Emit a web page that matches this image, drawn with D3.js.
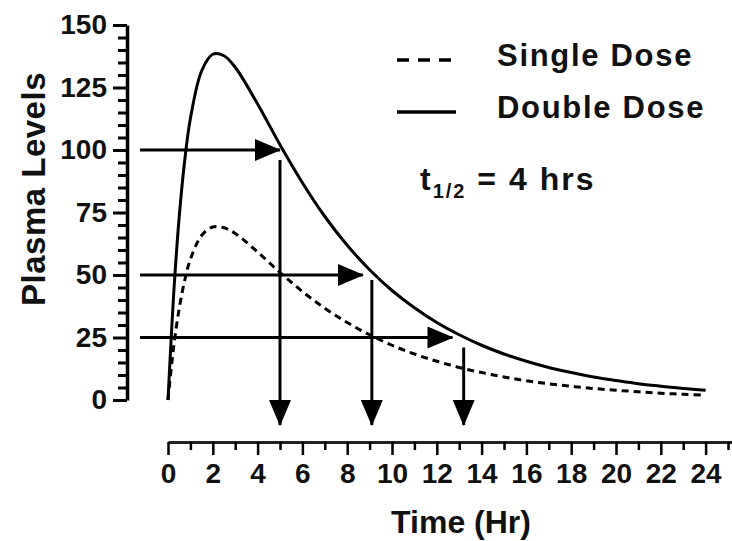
<!DOCTYPE html>
<html>
<head>
<meta charset="utf-8">
<script src="https://cdn.jsdelivr.net/npm/d3@7"></script>
<style>
  body { margin: 0; background: #fff; }
  text { font-family: "Liberation Sans", Arial, sans-serif; font-weight: bold; fill: #111; }
</style>
</head>
<body>
<div id="chart"></div>
<script>
// Data
const times = [0, 0.25, 0.5, 0.75, 1, 1.5, 2, 2.5, 3, 4, 5, 6, 7, 8, 9, 10, 11, 12,
  13, 14, 15, 16, 17, 18, 19, 20, 21, 22, 23, 24];
const singleDose = [0, 21.0, 36.6, 48.0, 56.3, 65.8, 69.2, 68.9, 66.6, 59.2, 51.0, 43.4,
  36.7, 31.0, 26.1, 21.9, 18.4, 15.5, 13.0, 11.0, 9.2, 7.7, 6.5, 5.5, 4.6, 3.9, 3.3, 2.7, 2.3, 1.9];
const doubleDose = [0, 41.9, 73.2, 96.1, 112.6, 131.6, 138.3, 137.7, 133.1, 118.4, 102.1, 86.9,
  73.4, 61.9, 52.1, 43.8, 36.9, 31.0, 26.1, 21.9, 18.4, 15.5, 13.0, 11.0, 9.2, 7.8, 6.5, 5.5, 4.6, 3.9];

// half-life arrows: level reached, where horizontal arrow stops, where vertical drops
const arrowLevels = [100, 50, 25];
const arrowTipTimes = [5, 8.7, 12.7];
const dropTimes = [5, 9.1, 13.2];
const dropTops = [96, 48, 21];

const xTickLabels = [0, 2, 4, 6, 8, 10, 12, 14, 16, 18, 20, 22, 24];
const yTickLabels = [0, 25, 50, 75, 100, 125, 150];

const width = 732, height = 541;

const svg = d3.select("#chart")
  .append("svg")
  .attr("width", width)
  .attr("height", height);

// Scales
const xScale = d3.scaleLinear().domain([0, 25.3]).range([168, 168 + 25.3 * 22.4]);
const yScale = d3.scaleLinear().domain([0, 150]).range([400, 25]);

// arrow head
svg.append("defs").append("marker")
  .attr("id", "head")
  .attr("markerUnits", "userSpaceOnUse")
  .attr("viewBox", "0 0 26 22")
  .attr("markerWidth", 26)
  .attr("markerHeight", 22)
  .attr("refX", 25)
  .attr("refY", 11)
  .attr("orient", "auto")
  .append("path")
  .attr("d", "M0,0 L26,11 L0,22 Z")
  .attr("fill", "#000");

// Y axis (major + minor)
const yAxis = svg.append("g")
  .attr("transform", "translate(127,0)")
  .call(d3.axisLeft(yScale).tickValues(yTickLabels).tickSize(14).tickSizeOuter(0).tickPadding(6));
yAxis.select(".domain").attr("stroke-width", 3.5).attr("stroke", "#000");
yAxis.selectAll(".tick line").attr("stroke-width", 3).attr("stroke", "#000");
yAxis.selectAll(".tick text").style("font-size", "28px").attr("fill", "#222");

const yMinor = svg.append("g")
  .attr("transform", "translate(127,0)")
  .call(d3.axisLeft(yScale).tickValues(d3.range(5, 150, 5).filter(v => v % 25 !== 0))
    .tickSize(9).tickFormat(""));
yMinor.select(".domain").remove();
yMinor.selectAll(".tick line").attr("stroke-width", 3).attr("stroke", "#000");

// X axis (major + minor), drawn apart below the plot
const xAxis = svg.append("g")
  .attr("transform", "translate(0,442)")
  .call(d3.axisBottom(xScale).tickValues(xTickLabels).tickSize(13).tickSizeOuter(0).tickPadding(8));
xAxis.select(".domain").attr("stroke-width", 3).attr("stroke", "#222");
xAxis.selectAll(".tick line").attr("stroke-width", 2.5);
xAxis.selectAll(".tick text").style("font-size", "28px").attr("fill", "#222");

const xMinor = svg.append("g")
  .attr("transform", "translate(0,442)")
  .call(d3.axisBottom(xScale).tickValues(d3.range(1, 26, 2)).tickSize(8).tickFormat(""));
xMinor.select(".domain").remove();
xMinor.selectAll(".tick line").attr("stroke-width", 2.5);

// Axis titles
svg.append("text")
  .attr("transform", "translate(45,189) rotate(-90)")
  .attr("text-anchor", "middle")
  .style("font-size", "33px")
  .style("letter-spacing", "0.5px")
  .text("Plasma Levels");

svg.append("text")
  .attr("x", 461)
  .attr("y", 533)
  .attr("text-anchor", "middle")
  .style("font-size", "32px")
  .text("Time (Hr)");

// Curves
const line = d3.line()
  .x(d => xScale(d[0]))
  .y(d => yScale(d[1]))
  .curve(d3.curveCatmullRom.alpha(0.5));

svg.append("path")
  .datum(times.map((t, i) => [t, doubleDose[i]]))
  .attr("d", line)
  .attr("fill", "none")
  .attr("stroke", "#000")
  .attr("stroke-width", 3);

svg.append("path")
  .datum(times.map((t, i) => [t, singleDose[i]]))
  .attr("d", line)
  .attr("fill", "none")
  .attr("stroke", "#000")
  .attr("stroke-width", 3)
  .attr("stroke-dasharray", "7,5");

// Arrows
arrowLevels.forEach((lvl, i) => {
  svg.append("line")
    .attr("x1", xScale(-1.25))
    .attr("x2", xScale(arrowTipTimes[i]))
    .attr("y1", yScale(lvl))
    .attr("y2", yScale(lvl))
    .attr("stroke", "#000")
    .attr("stroke-width", 3)
    .attr("marker-end", "url(#head)");

  svg.append("line")
    .attr("x1", xScale(dropTimes[i]))
    .attr("x2", xScale(dropTimes[i]))
    .attr("y1", yScale(dropTops[i]))
    .attr("y2", yScale(-10))
    .attr("stroke", "#000")
    .attr("stroke-width", 3)
    .attr("marker-end", "url(#head)");
});

// Legend
const legend = svg.append("g");
legend.append("line")
  .attr("x1", 397).attr("x2", 456).attr("y1", 60).attr("y2", 60)
  .attr("stroke", "#000").attr("stroke-width", 3.5).attr("stroke-dasharray", "12,9");
legend.append("text")
  .attr("x", 497).attr("y", 66)
  .style("font-size", "31px")
  .style("letter-spacing", "1.7px")
  .text("Single Dose");
legend.append("line")
  .attr("x1", 397).attr("x2", 456).attr("y1", 112).attr("y2", 112)
  .attr("stroke", "#000").attr("stroke-width", 3.5);
legend.append("text")
  .attr("x", 497).attr("y", 118)
  .style("font-size", "31px")
  .style("letter-spacing", "1.7px")
  .text("Double Dose");

// Half-life note
const note = svg.append("text")
  .attr("x", 420).attr("y", 190)
  .style("font-size", "32px")
  .style("letter-spacing", "2px");
note.append("tspan").text("t");
note.append("tspan").attr("dy", 8).style("font-size", "20px").text("1/2");
note.append("tspan").attr("dy", -8).text(" = 4 hrs");
</script>
</body>
</html>
